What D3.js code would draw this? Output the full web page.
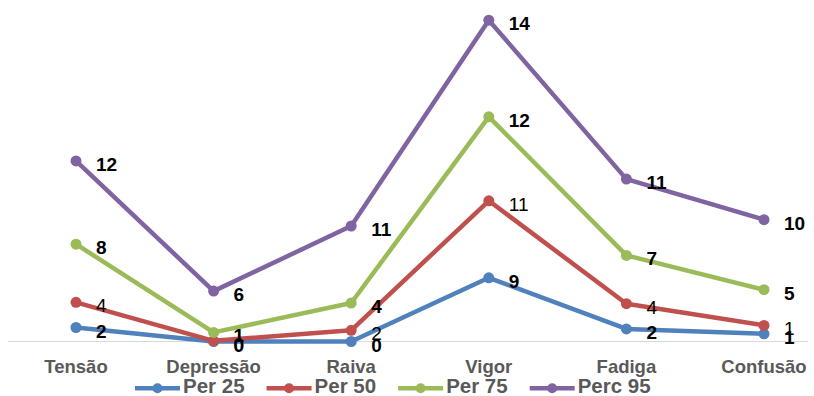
<!DOCTYPE html>
<html>
<head>
<meta charset="utf-8">
<script src="https://cdn.jsdelivr.net/npm/d3@7/dist/d3.min.js"></script>
<style>
  html, body { margin: 0; padding: 0; background: #fff; }
  svg { display: block; font-family: "Liberation Sans", Arial, sans-serif; }
</style>
</head>
<body>
<svg id="chart" width="814" height="396"></svg>
<script>
// Mood profile percentiles per dimension (stacked lines)
const categories = ["Tensão", "Depressão", "Raiva", "Vigor", "Fadiga", "Confusão"];
const per25  = [2.0, 0.0, 0.0, 9.1, 1.8, 1.1];
const per50  = [3.6, 0.1, 1.6, 11.0, 3.6, 1.2];
const per75  = [8.3, 1.2, 3.9, 12.0, 6.9, 5.1];
const perc95 = [11.9, 5.9, 11.0, 13.8, 10.9, 10.0];
const seriesNames = ["Per 25", "Per 50", "Per 75", "Perc 95"];
const yDomainMax = 50;

const seriesValues = [per25, per50, per75, perc95];
const colors = ["#4F81BD", "#C0504D", "#9BBB59", "#8064A2"];
const labelWeights = ["bold", "normal", "bold", "bold"];

const table = categories.map((c, i) => {
  const row = { category: c };
  seriesNames.forEach((s, k) => { row[s] = seriesValues[k][i]; });
  return row;
});

const stacked = d3.stack().keys(seriesNames)(table);

const svg = d3.select("#chart");

const x = d3.scalePoint().domain(categories).range([76, 764]).padding(0);
const y = d3.scaleLinear().domain([0, yDomainMax]).range([341.5, -8.5]);

// category axis baseline
svg.append("line")
  .attr("x1", 8).attr("x2", 808)
  .attr("y1", y(0)).attr("y2", y(0))
  .attr("stroke", "#d9d9d9").attr("stroke-width", 1.2);

// category labels
svg.append("g").selectAll("text")
  .data(categories)
  .join("text")
  .attr("x", d => x(d))
  .attr("y", 372.7)
  .attr("text-anchor", "middle")
  .attr("font-size", 18.5)
  .attr("font-weight", "bold")
  .attr("fill", "#595959")
  .text(d => d);

const line = d3.line()
  .x(d => x(d.data.category))
  .y(d => y(d[1]));

const seriesG = svg.append("g").selectAll("g")
  .data(stacked)
  .join("g");

seriesG.append("path")
  .attr("d", line)
  .attr("fill", "none")
  .attr("stroke", (d, i) => colors[i])
  .attr("stroke-width", 4.5)
  .attr("stroke-linejoin", "round");

seriesG.selectAll("circle")
  .data(d => d)
  .join("circle")
  .attr("cx", d => x(d.data.category))
  .attr("cy", d => y(d[1]))
  .attr("r", 5.5)
  .attr("fill", function () { return colors[d3.select(this.parentNode).datum().index]; });

// value labels, drawn above all lines
const fmt = d3.format(".0f");
svg.append("g").selectAll("g")
  .data(stacked)
  .join("g")
  .each(function (s, i) {
    d3.select(this).selectAll("text")
      .data(s)
      .join("text")
      .attr("x", d => x(d.data.category) + 20)
      .attr("y", d => y(d[1]) + 10)
      .attr("font-size", 19)
      .attr("font-weight", labelWeights[i])
      .attr("fill", "#000")
      .text(d => fmt(d.data[s.key]));
  });

// legend
const legend = svg.append("g");
let lx = 135;
seriesNames.forEach((name, i) => {
  const g = legend.append("g").attr("transform", `translate(${lx},0)`);
  g.append("line")
    .attr("x1", 0).attr("x2", 45)
    .attr("y1", 388.3).attr("y2", 388.3)
    .attr("stroke", colors[i]).attr("stroke-width", 4.5);
  g.append("circle")
    .attr("cx", 22.5).attr("cy", 388.3).attr("r", 5)
    .attr("fill", colors[i]);
  const t = g.append("text")
    .attr("x", 48)
    .attr("y", 393.3)
    .attr("font-size", 20.5)
    .attr("font-weight", "bold")
    .attr("fill", "#595959")
    .text(name);
  lx += 48 + t.node().getComputedTextLength() + 22;
});
</script>
</body>
</html>
